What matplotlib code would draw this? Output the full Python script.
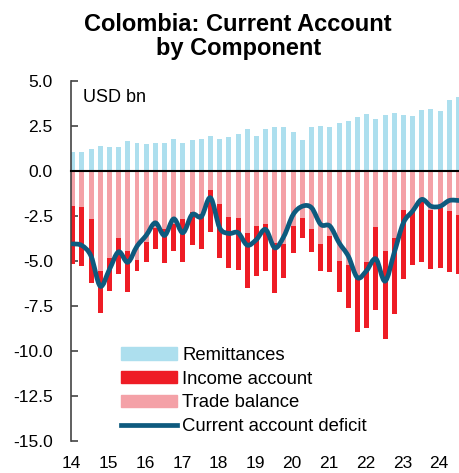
import numpy as np
import matplotlib
matplotlib.use("Agg")
import matplotlib.pyplot as plt
from matplotlib.path import Path
from matplotlib.patches import PathPatch
from matplotlib.lines import Line2D

plt.rcParams['font.family'] = ['Liberation Sans', 'DejaVu Sans']

# quarterly data, 2014Q1 .. 2024Q3, USD bn
remittances = [1.07, 1.07, 1.20, 1.39, 1.33, 1.31, 1.66, 1.57, 1.51, 1.53, 1.53, 1.76,
               1.57, 1.72, 1.79, 1.93, 1.76, 1.87, 2.06, 2.32, 1.96, 2.31, 2.43, 2.44,
               2.17, 1.74, 2.44, 2.50, 2.47, 2.65, 2.80, 2.98, 3.19, 2.87, 3.13, 3.20,
               3.13, 3.06, 3.39, 3.46, 3.35, 3.93, 4.09]
trade_balance = [-1.92, -2.01, -2.69, -5.53, -4.84, -3.75, -4.44, -4.92, -3.93, -3.16, -3.23, -2.97,
                 -2.69, -2.29, -2.37, -1.08, -1.81, -2.53, -2.64, -3.46, -3.08, -2.97, -4.01, -4.03,
                 -3.06, -2.60, -3.23, -4.07, -3.63, -4.99, -5.25, -5.93, -5.03, -3.12, -4.46, -3.71,
                 -2.19, -2.25, -1.49, -2.19, -2.04, -2.25, -2.42]
income_account = [-3.27, -3.26, -3.56, -2.35, -1.82, -2.00, -2.31, -0.63, -1.14, -1.16, -1.91, -1.49,
                  -2.38, -1.85, -1.99, -2.32, -3.01, -2.87, -2.85, -3.05, -2.73, -2.60, -2.76, -1.94,
                  -1.47, -1.13, -1.26, -1.46, -1.97, -1.72, -2.39, -3.03, -3.68, -4.61, -4.88, -4.25,
                  -3.82, -2.98, -3.58, -3.24, -3.34, -3.35, -3.33]
current_account = [-4.05, -4.14, -4.73, -6.40, -5.47, -4.49, -5.07, -4.18, -3.58, -2.88, -3.58, -2.66,
                   -3.43, -2.42, -2.54, -1.49, -3.16, -3.47, -3.43, -4.12, -3.81, -3.25, -4.27, -3.62,
                   -2.42, -1.96, -2.04, -2.97, -3.06, -3.99, -4.73, -5.93, -5.53, -4.88, -6.12, -4.54,
                   -2.88, -2.23, -1.58, -1.96, -1.96, -1.64, -1.64]
years = list(range(2014, 2025))
year_labels = [str(y)[2:] for y in years]

c_rem = '#ADDFEE'
c_inc = '#EE1C25'
c_trd = '#F4A1A7'
c_ca = '#0E5A7E'

x = 2014 + np.arange(len(remittances)) * 0.25 + 0.03
w = 0.135

fig = plt.figure(figsize=(4.6, 4.73), dpi=100)
ax = fig.add_axes([0.154, 0.0677, 0.846, 0.7611])

ax.bar(x, trade_balance, w, color=c_trd, zorder=2)
ax.bar(x, income_account, w, bottom=trade_balance, color=c_inc, zorder=2)
ax.bar(x, remittances, w, color=c_rem, zorder=2)

# smoothed line (cubic bezier through the quarterly points)
pts = np.column_stack([x, current_account])
ext = np.vstack([pts[0], pts, pts[-1]])
verts = [tuple(pts[0])]
codes = [Path.MOVETO]
for i in range(len(pts) - 1):
    p0, p1, p2, p3 = ext[i], ext[i + 1], ext[i + 2], ext[i + 3]
    c1 = p1 + (p2 - p0) / 6
    c2 = p2 - (p3 - p1) / 6
    verts += [tuple(c1), tuple(c2), tuple(p2)]
    codes += [Path.CURVE4] * 3
ax.add_patch(PathPatch(Path(verts, codes), fill=False, edgecolor=c_ca, lw=3.4,
                       capstyle='round', joinstyle='round', zorder=4))

ax.set_xlim(2013.98, 2024.57)
ax.set_ylim(-15, 5)
ax.set_yticks(np.arange(-15, 5.1, 2.5))
ax.set_yticklabels([f'{v:.1f}' for v in np.arange(-15, 5.1, 2.5)], fontsize=12.5)
ax.tick_params(axis='y', direction='in', length=5, width=1.2, color='#444444', pad=13)

# x axis line sits at zero, labels stay at the bottom
ax.spines['bottom'].set_position(('data', 0))
ax.spines['bottom'].set_linewidth(1.5)
ax.spines['bottom'].set_zorder(5)
ax.set_xticks(years)
ax.tick_params(axis='x', direction='out', length=5, width=1.2, labelbottom=False)
sec = ax.secondary_xaxis('bottom')
sec.set_xticks(years)
sec.set_xticklabels(year_labels, fontsize=12.5)
sec.tick_params(length=0, pad=11)
sec.spines['bottom'].set_visible(False)

ax.spines['left'].set_color('#444444')
ax.spines['left'].set_linewidth(1.2)
ax.spines['top'].set_visible(False)
ax.spines['right'].set_visible(False)

ax.text(0.03, 0.955, 'USD bn', transform=ax.transAxes, fontsize=13, va='center', ha='left')

fig.suptitle('Colombia: Current Account\nby Component', fontsize=17, fontweight='bold',
             x=0.518, y=0.972, linespacing=1.05)

handles = [plt.Rectangle((0, 0), 1, 1, color=c_rem),
           plt.Rectangle((0, 0), 1, 1, color=c_inc),
           plt.Rectangle((0, 0), 1, 1, color=c_trd),
           Line2D([], [], color=c_ca, lw=3.4)]
labels = ['Remittances', 'Income account', 'Trade balance', 'Current account deficit']
ax.legend(handles, labels, loc='upper left', bbox_to_anchor=(0.13, 0.261), frameon=False,
          fontsize=13.3, handlelength=3.0, handleheight=0.65, handletextpad=0.3,
          labelspacing=0.36, borderpad=0, borderaxespad=0)

fig.savefig('out.png', dpi=100)
